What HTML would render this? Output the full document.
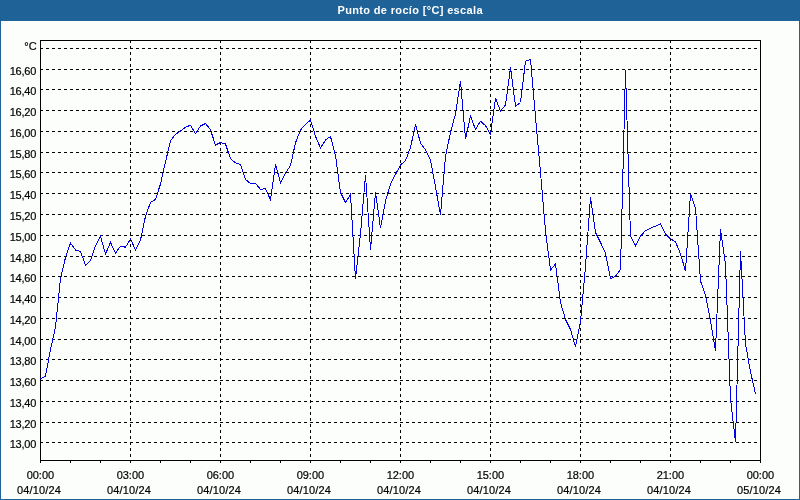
<!DOCTYPE html>
<html><head><meta charset="utf-8"><title>Punto de rocío [°C] escala</title>
<style>
html,body{margin:0;padding:0;width:800px;height:500px;overflow:hidden;background:#1E6297;}
svg{position:absolute;left:0;top:0;display:block;}
text{font-family:"Liberation Sans",sans-serif;font-size:11px;fill:#000;stroke:#000;stroke-width:0.2px;}
.t{font-weight:bold;fill:#fff;stroke:none;}
.g{stroke:#000;stroke-width:1;stroke-dasharray:3 3;shape-rendering:crispEdges;fill:none;}
.f{stroke:#000;stroke-width:1;shape-rendering:crispEdges;fill:none;}
.d{stroke:#0000E8;stroke-width:1;shape-rendering:crispEdges;fill:none;stroke-linejoin:miter;}
</style></head><body>
<svg width="800" height="500" viewBox="0 0 800 500">
<defs><pattern id="dz" x="0" y="0" width="4" height="4" patternUnits="userSpaceOnUse"><rect x="1" y="1" width="1" height="1" fill="#2464AE" shape-rendering="crispEdges"/><rect x="3" y="3" width="1" height="1" fill="#2464AE" shape-rendering="crispEdges"/></pattern></defs>
<rect x="0" y="0" width="800" height="500" fill="#1E6297"/>
<rect x="0" y="0" width="800" height="21" fill="url(#dz)"/>
<rect x="1" y="21" width="798" height="478" fill="#FCFEFC"/>
<text class="t" x="337.5" y="14" textLength="145" lengthAdjust="spacing">Punto de rocío [°C] escala</text>

<line class="g" x1="40" y1="48.5" x2="760" y2="48.5"/>
<line class="g" x1="40" y1="69.5" x2="760" y2="69.5"/>
<line class="g" x1="40" y1="89.5" x2="760" y2="89.5"/>
<line class="g" x1="40" y1="110.5" x2="760" y2="110.5"/>
<line class="g" x1="40" y1="131.5" x2="760" y2="131.5"/>
<line class="g" x1="40" y1="152.5" x2="760" y2="152.5"/>
<line class="g" x1="40" y1="172.5" x2="760" y2="172.5"/>
<line class="g" x1="40" y1="193.5" x2="760" y2="193.5"/>
<line class="g" x1="40" y1="214.5" x2="760" y2="214.5"/>
<line class="g" x1="40" y1="235.5" x2="760" y2="235.5"/>
<line class="g" x1="40" y1="256.5" x2="760" y2="256.5"/>
<line class="g" x1="40" y1="276.5" x2="760" y2="276.5"/>
<line class="g" x1="40" y1="297.5" x2="760" y2="297.5"/>
<line class="g" x1="40" y1="318.5" x2="760" y2="318.5"/>
<line class="g" x1="40" y1="339.5" x2="760" y2="339.5"/>
<line class="g" x1="40" y1="359.5" x2="760" y2="359.5"/>
<line class="g" x1="40" y1="380.5" x2="760" y2="380.5"/>
<line class="g" x1="40" y1="401.5" x2="760" y2="401.5"/>
<line class="g" x1="40" y1="422.5" x2="760" y2="422.5"/>
<line class="g" x1="40" y1="442.5" x2="760" y2="442.5"/>
<line class="g" x1="130.5" y1="40" x2="130.5" y2="460"/>
<line class="g" x1="220.5" y1="40" x2="220.5" y2="460"/>
<line class="g" x1="310.5" y1="40" x2="310.5" y2="460"/>
<line class="g" x1="400.5" y1="40" x2="400.5" y2="460"/>
<line class="g" x1="490.5" y1="40" x2="490.5" y2="460"/>
<line class="g" x1="580.5" y1="40" x2="580.5" y2="460"/>
<line class="g" x1="670.5" y1="40" x2="670.5" y2="460"/>
<rect class="f" x="40.5" y="40.5" width="720" height="420"/>
<line class="f" x1="40.5" y1="461" x2="40.5" y2="463"/>
<line class="f" x1="70.5" y1="461" x2="70.5" y2="463"/>
<line class="f" x1="100.5" y1="461" x2="100.5" y2="463"/>
<line class="f" x1="130.5" y1="461" x2="130.5" y2="463"/>
<line class="f" x1="160.5" y1="461" x2="160.5" y2="463"/>
<line class="f" x1="190.5" y1="461" x2="190.5" y2="463"/>
<line class="f" x1="220.5" y1="461" x2="220.5" y2="463"/>
<line class="f" x1="250.5" y1="461" x2="250.5" y2="463"/>
<line class="f" x1="280.5" y1="461" x2="280.5" y2="463"/>
<line class="f" x1="310.5" y1="461" x2="310.5" y2="463"/>
<line class="f" x1="340.5" y1="461" x2="340.5" y2="463"/>
<line class="f" x1="370.5" y1="461" x2="370.5" y2="463"/>
<line class="f" x1="400.5" y1="461" x2="400.5" y2="463"/>
<line class="f" x1="430.5" y1="461" x2="430.5" y2="463"/>
<line class="f" x1="460.5" y1="461" x2="460.5" y2="463"/>
<line class="f" x1="490.5" y1="461" x2="490.5" y2="463"/>
<line class="f" x1="520.5" y1="461" x2="520.5" y2="463"/>
<line class="f" x1="550.5" y1="461" x2="550.5" y2="463"/>
<line class="f" x1="580.5" y1="461" x2="580.5" y2="463"/>
<line class="f" x1="610.5" y1="461" x2="610.5" y2="463"/>
<line class="f" x1="640.5" y1="461" x2="640.5" y2="463"/>
<line class="f" x1="670.5" y1="461" x2="670.5" y2="463"/>
<line class="f" x1="700.5" y1="461" x2="700.5" y2="463"/>
<line class="f" x1="730.5" y1="461" x2="730.5" y2="463"/>
<line class="f" x1="760.5" y1="461" x2="760.5" y2="463"/>
<polyline class="d" points="40.5,378.8 45.5,376.2 50.5,349.5 55.5,327.0 60.5,278.8 65.5,257.5 70.5,243.1 75.5,250.0 80.5,251.5 85.5,265.2 90.5,260.6 95.5,245.6 100.5,236.2 105.5,254.0 110.5,242.5 115.5,253.1 120.5,246.2 125.5,247.2 130.5,239.0 135.5,250.0 140.5,240.0 145.5,216.2 150.5,202.5 155.5,199.4 160.5,184.0 165.5,161.9 170.5,140.6 175.5,134.4 180.5,131.0 185.5,127.2 190.5,125.2 195.5,133.5 200.5,126.0 205.5,123.5 210.5,129.8 215.5,145.2 220.5,142.4 225.5,144.0 230.5,158.8 235.5,162.9 240.5,164.4 245.5,179.4 250.5,183.5 255.5,183.5 260.5,189.4 265.5,188.5 270.5,200.0 275.5,164.4 280.5,182.5 285.5,173.1 290.5,165.6 295.5,142.8 300.5,130.0 305.5,124.4 310.5,120.0 315.5,136.2 320.5,148.1 325.5,140.0 330.5,136.5 335.5,155.6 340.5,192.5 345.5,202.5 350.5,194.4 355.5,279.0 360.5,234.0 365.5,175.0 370.5,249.5 375.5,192.5 380.5,228.0 385.5,201.0 390.5,184.0 395.5,174.4 400.5,165.0 405.5,160.6 410.5,147.5 415.5,124.4 420.5,143.1 425.5,150.0 430.5,160.0 435.5,187.0 440.5,215.0 445.5,156.2 450.5,132.5 455.5,113.8 460.5,81.2 465.5,138.8 470.5,116.2 475.5,129.4 480.5,121.2 485.5,125.6 490.5,134.4 495.5,98.1 500.5,111.2 505.5,105.0 510.5,67.5 515.5,106.2 520.5,102.5 525.5,61.2 530.5,59.4 535.5,117.0 540.5,172.5 545.5,231.0 550.5,270.0 555.5,263.9 560.5,302.5 565.5,319.5 570.5,329.5 575.5,346.8 580.5,321.5 585.5,266.5 590.5,197.0 595.5,232.5 600.5,242.5 605.5,253.1 610.5,278.8 615.5,276.2 620.5,269.4 625.5,70.0 630.5,236.2 635.5,245.6 640.5,236.2 645.5,230.6 650.5,228.1 655.5,226.2 660.5,224.0 665.5,233.8 670.5,238.8 675.5,241.9 680.5,253.8 685.5,271.2 690.5,193.8 695.5,208.0 700.5,281.2 705.5,295.0 710.5,321.0 715.5,350.6 720.5,228.8 725.5,264.7 730.5,399.0 735.5,441.9 740.5,251.2 745.5,344.0 750.5,371.9 755.5,393.8"/>
<text x="36.7" y="50" text-anchor="end">°C</text>
<text x="36.2" y="75" text-anchor="end" letter-spacing="-0.2">16,60</text>
<text x="36.2" y="95" text-anchor="end" letter-spacing="-0.2">16,40</text>
<text x="36.2" y="116" text-anchor="end" letter-spacing="-0.2">16,20</text>
<text x="36.2" y="137" text-anchor="end" letter-spacing="-0.2">16,00</text>
<text x="36.2" y="158" text-anchor="end" letter-spacing="-0.2">15,80</text>
<text x="36.2" y="178" text-anchor="end" letter-spacing="-0.2">15,60</text>
<text x="36.2" y="199" text-anchor="end" letter-spacing="-0.2">15,40</text>
<text x="36.2" y="220" text-anchor="end" letter-spacing="-0.2">15,20</text>
<text x="36.2" y="241" text-anchor="end" letter-spacing="-0.2">15,00</text>
<text x="36.2" y="262" text-anchor="end" letter-spacing="-0.2">14,80</text>
<text x="36.2" y="282" text-anchor="end" letter-spacing="-0.2">14,60</text>
<text x="36.2" y="303" text-anchor="end" letter-spacing="-0.2">14,40</text>
<text x="36.2" y="324" text-anchor="end" letter-spacing="-0.2">14,20</text>
<text x="36.2" y="345" text-anchor="end" letter-spacing="-0.2">14,00</text>
<text x="36.2" y="365" text-anchor="end" letter-spacing="-0.2">13,80</text>
<text x="36.2" y="386" text-anchor="end" letter-spacing="-0.2">13,60</text>
<text x="36.2" y="407" text-anchor="end" letter-spacing="-0.2">13,40</text>
<text x="36.2" y="428" text-anchor="end" letter-spacing="-0.2">13,20</text>
<text x="36.2" y="448" text-anchor="end" letter-spacing="-0.2">13,00</text>
<text x="40.4" y="479" text-anchor="middle">00:00</text>
<text x="39.0" y="494" text-anchor="middle" letter-spacing="0.15">04/10/24</text>
<text x="130.4" y="479" text-anchor="middle">03:00</text>
<text x="129.0" y="494" text-anchor="middle" letter-spacing="0.15">04/10/24</text>
<text x="220.4" y="479" text-anchor="middle">06:00</text>
<text x="219.0" y="494" text-anchor="middle" letter-spacing="0.15">04/10/24</text>
<text x="310.4" y="479" text-anchor="middle">09:00</text>
<text x="309.0" y="494" text-anchor="middle" letter-spacing="0.15">04/10/24</text>
<text x="400.4" y="479" text-anchor="middle">12:00</text>
<text x="399.0" y="494" text-anchor="middle" letter-spacing="0.15">04/10/24</text>
<text x="490.4" y="479" text-anchor="middle">15:00</text>
<text x="489.0" y="494" text-anchor="middle" letter-spacing="0.15">04/10/24</text>
<text x="580.4" y="479" text-anchor="middle">18:00</text>
<text x="579.0" y="494" text-anchor="middle" letter-spacing="0.15">04/10/24</text>
<text x="670.4" y="479" text-anchor="middle">21:00</text>
<text x="669.0" y="494" text-anchor="middle" letter-spacing="0.15">04/10/24</text>
<text x="760.4" y="479" text-anchor="middle">00:00</text>
<text x="759.0" y="494" text-anchor="middle" letter-spacing="0.15">05/10/24</text>
</svg></body></html>
